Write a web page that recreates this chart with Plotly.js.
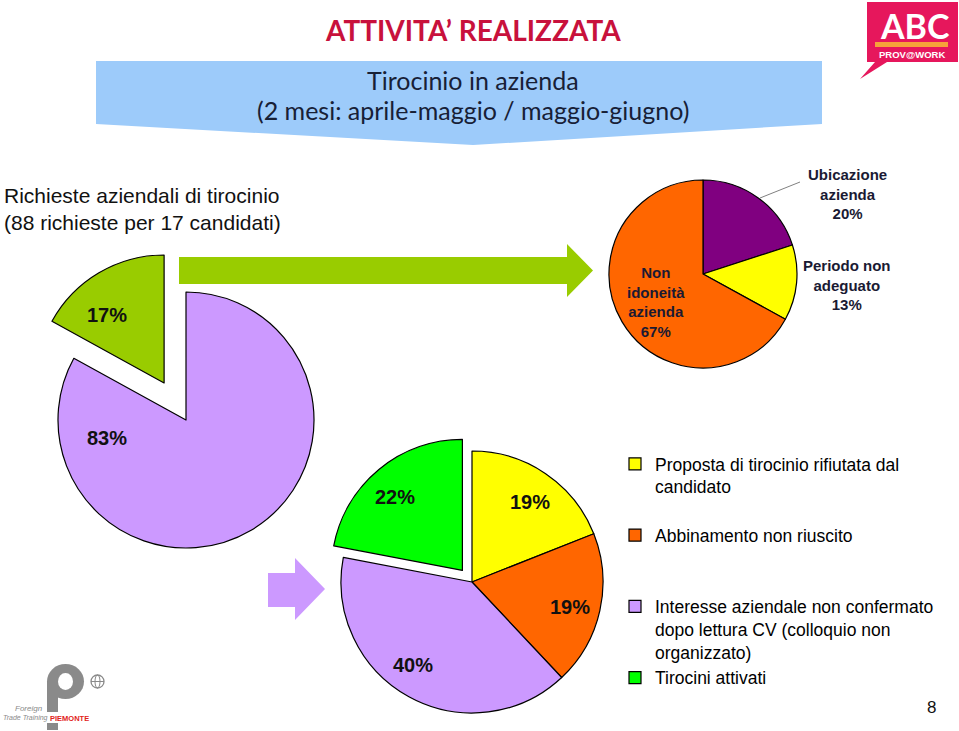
<!DOCTYPE html>
<html><head><meta charset="utf-8">
<script src="https://cdn.plot.ly/plotly-3.0.1.min.js"></script>
<style>html,body{margin:0;padding:0;background:#fff;overflow:hidden}#chart{width:959px;height:731px}</style>
</head><body><div id="chart"></div>
<script>
const W = 959, H = 731;

// ---------- DATA ----------
const requestLabels = ['Quota 83%', 'Quota 17%'];
const requestValues = [83, 17];

const reasonLabels = ['Ubicazione azienda', 'Periodo non adeguato', 'Non idoneità azienda'];
const reasonValues = [20, 13, 67];

const outcomeLabels = [
  'Proposta di tirocinio rifiutata dal candidato',
  'Abbinamento non riuscito',
  'Interesse aziendale non confermato dopo lettura CV (colloquio non organizzato)',
  'Tirocini attivati'
];
const outcomeValues = [19, 19, 40, 22];

const titleText = 'ATTIVITA’ REALIZZATA';
const subtitleLines = ['Tirocinio in azienda', '(2 mesi: aprile-maggio / maggio-giugno)'];
const leftTextLines = ['Richieste aziendali di tirocinio', '(88 richieste per 17 candidati)'];
const pageNumber = '8';

// ---------- HELPERS ----------
const fx = x => x / W, fy = y => 1 - y / H;
const P = (x, y) => fx(x) + ',' + fy(y);
function dom(cx, cy, half) {
  return {x: [fx(cx - half), fx(cx + half)], y: [fy(cy + half), fy(cy - half)]};
}
function wrap(text, maxChars) {
  const words = text.split(' '); const lines = []; let cur = '';
  words.forEach(w => {
    if (cur && (cur + ' ' + w).length > maxChars) { lines.push(cur); cur = w; }
    else cur = cur ? cur + ' ' + w : w;
  });
  if (cur) lines.push(cur);
  return lines;
}
const FONT = 'Liberation Sans, Arial, Helvetica, sans-serif';
const LEG_LINES = 3;
const legendText = outcomeLabels.map((l, i) => {
  const lines = wrap(l, 35);
  if (i < outcomeLabels.length - 1) while (lines.length < LEG_LINES) lines.push('&nbsp;');
  return lines.join('<br>');
});

const OUT = '#000000';
const traces = [
  {
    type: 'pie', labels: requestLabels, values: requestValues, sort: false,
    direction: 'clockwise', rotation: 0, pull: [0, 0.336],
    marker: {colors: ['#cc99ff', '#99cc00'], line: {color: OUT, width: 1.2}},
    textinfo: 'none', showlegend: false, hoverinfo: 'label+percent',
    domain: dom(186, 420, 128 * 1.336)
  },
  {
    type: 'pie', labels: reasonLabels, values: reasonValues, sort: false,
    direction: 'clockwise', rotation: 0,
    marker: {colors: ['#800080', '#ffff00', '#ff6600'], line: {color: OUT, width: 1.2}},
    textinfo: 'none', showlegend: false, hoverinfo: 'label+percent',
    domain: dom(703, 274, 94)
  },
  {
    type: 'pie', labels: legendText, values: outcomeValues, sort: false,
    direction: 'clockwise', rotation: 0, pull: [0, 0, 0, 0.115],
    marker: {colors: ['#ffff00', '#ff6600', '#cc99ff', '#00ff00'], line: {color: OUT, width: 1.2}},
    textinfo: 'none', showlegend: true, hoverinfo: 'percent',
    domain: dom(472, 582, 131 * 1.115)
  }
];

// ---------- ANNOTATIONS ----------
const ann = [];
function txt(x, y, text, font, opts) {
  ann.push(Object.assign({xref: 'paper', yref: 'paper', x: fx(x), y: fy(y), text: text,
    showarrow: false, font: font, xanchor: 'center', yanchor: 'middle', align: 'center'}, opts || {}));
}
txt(473, 30, '<b>' + titleText + '</b>', {family: 'Lato, Open Sans, sans-serif', size: 28, color: '#c8113c'});
txt(473, 80, subtitleLines[0], {family: 'Lato, Open Sans, sans-serif', size: 25, color: '#172036'});
txt(473, 110, subtitleLines[1], {family: 'Lato, Open Sans, sans-serif', size: 25, color: '#172036'});
txt(2, 209, leftTextLines.join('<br>'), {family: FONT, size: 21, color: '#111111'}, {xanchor: 'left', align: 'left'});

const pieLabelFont = {family: FONT, size: 20, color: '#111111'};
const reqPos = [[107, 438], [107, 315]];
requestValues.forEach((v, i) => txt(reqPos[i][0], reqPos[i][1], '<b>' + v + '%</b>', pieLabelFont));

const reasonFont = {family: FONT, size: 15, color: '#1a1a33'};
const reasonPos = [[847, 194], [847, 285], [656, 302]];
reasonValues.forEach((v, i) => txt(reasonPos[i][0], reasonPos[i][1],
  '<b>' + wrap(reasonLabels[i], 11).join('<br>') + '<br>' + v + '%</b>', reasonFont));

const outPos = [[530, 502], [570, 607], [413, 665], [395, 497]];
outcomeValues.forEach((v, i) => txt(outPos[i][0], outPos[i][1], '<b>' + v + '%</b>', pieLabelFont));

txt(931, 707, pageNumber, {family: FONT, size: 17, color: '#111111'});

// ABC logo text
txt(915, 25, '<b>ABC</b>', {family: 'Lato, DejaVu Sans, sans-serif', size: 34, color: '#ffffff'});
txt(912, 55, '<b>PROV@WORK</b>', {family: FONT, size: 9.5, color: '#ffffff'});
// Piemonte logo text
txt(45, 708, '<i>Foreign</i>', {family: FONT, size: 8, color: '#8a8a8a'}, {xanchor: 'right'});
txt(1, 718, '<i>Trade Training</i>', {family: FONT, size: 7, color: '#8a8a8a'}, {xanchor: 'left'});
txt(48, 718, '<b>PIEMONTE</b>', {family: FONT, size: 7.5, color: '#e2231a'}, {xanchor: 'left'});

// ---------- SHAPES ----------
const shapes = [];
function path(d, fill, line, layer) {
  shapes.push({type: 'path', xref: 'paper', yref: 'paper', path: d, fillcolor: fill,
    line: line || {width: 0}, layer: layer || 'below'});
}
function pts(list, close) {
  return 'M' + list.map(p => P(p[0], p[1])).join(' L') + (close ? ' Z' : '');
}
// blue banner
path(pts([[96, 61], [822, 61], [822, 124], [473, 145], [96, 124]], true), '#9dcbfa');
// green arrow
path(pts([[179, 257], [567, 257], [567, 244], [593, 270.5], [567, 297], [567, 284], [179, 284]], true), '#99cc00');
// lavender arrow
path(pts([[268, 573], [295, 573], [295, 558], [325, 589], [295, 620], [295, 607], [268, 607]], true), '#cc99ff');
// leader line
shapes.push({type: 'line', xref: 'paper', yref: 'paper', x0: fx(760), y0: fy(198), x1: fx(800), y1: fy(182),
  line: {color: '#808080', width: 1}});
// ABC bubble
path(pts([[867, 2], [958, 2], [958, 62], [887, 62], [860, 79], [875, 62], [867, 62]], true), '#e6175c');
shapes.push({type: 'rect', xref: 'paper', yref: 'paper', x0: fx(875), x1: fx(948), y0: fy(47), y1: fy(42),
  fillcolor: '#f6a23a', line: {width: 0}, layer: 'above'});
// Piemonte "p"
shapes.push({type: 'circle', xref: 'paper', yref: 'paper', x0: fx(47), x1: fx(84), y0: fy(699), y1: fy(664),
  fillcolor: '#8a8a8a', line: {width: 0}, layer: 'below'});
shapes.push({type: 'circle', xref: 'paper', yref: 'paper', x0: fx(58), x1: fx(73), y0: fy(690), y1: fy(673),
  fillcolor: '#ffffff', line: {width: 0}, layer: 'below'});
shapes.push({type: 'rect', xref: 'paper', yref: 'paper', x0: fx(47), x1: fx(58), y0: fy(712), y1: fy(681),
  fillcolor: '#8a8a8a', line: {width: 0}, layer: 'below'});
shapes.push({type: 'rect', xref: 'paper', yref: 'paper', x0: fx(47), x1: fx(58), y0: fy(730), y1: fy(723),
  fillcolor: '#8a8a8a', line: {width: 0}, layer: 'below'});
// globe
shapes.push({type: 'circle', xref: 'paper', yref: 'paper', x0: fx(91), x1: fx(104), y0: fy(688), y1: fy(675),
  fillcolor: 'rgba(0,0,0,0)', line: {color: '#8a8a8a', width: 1.3}});
shapes.push({type: 'circle', xref: 'paper', yref: 'paper', x0: fx(95), x1: fx(100), y0: fy(688), y1: fy(675),
  fillcolor: 'rgba(0,0,0,0)', line: {color: '#8a8a8a', width: 1}});
shapes.push({type: 'line', xref: 'paper', yref: 'paper', x0: fx(91), x1: fx(104), y0: fy(681.5), y1: fy(681.5),
  line: {color: '#8a8a8a', width: 1}});

const layout = {
  width: W, height: H,
  margin: {l: 0, r: 0, t: 0, b: 0},
  paper_bgcolor: '#ffffff', plot_bgcolor: '#ffffff',
  showlegend: true,
  legend: {
    x: fx(615), y: fy(446), xanchor: 'left', yanchor: 'top',
    font: {family: FONT, size: 17.5, color: '#000000'},
    valign: 'top', traceorder: 'normal', bgcolor: 'rgba(0,0,0,0)', borderwidth: 0
  },
  annotations: ann,
  shapes: shapes
};

Plotly.newPlot('chart', traces, layout, {displayModeBar: false, staticPlot: true});
</script>
</body></html>
